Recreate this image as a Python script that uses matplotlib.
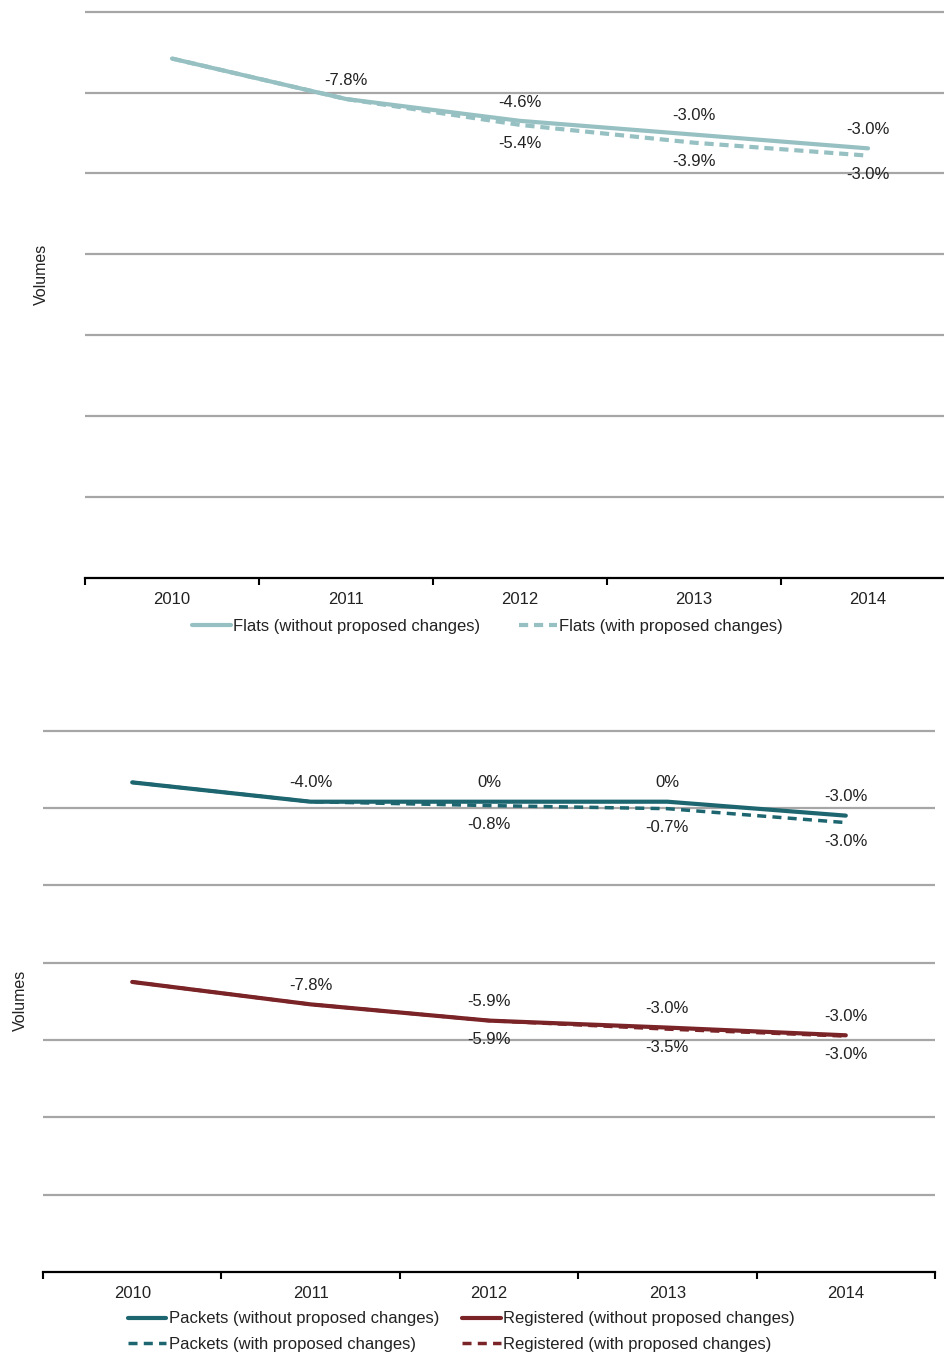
import matplotlib.pyplot as plt
from matplotlib.ticker import FixedLocator, NullFormatter

plt.rcParams['font.family'] = ['Liberation Sans', 'DejaVu Sans']

years = ['2010', '2011', '2012', '2013', '2014']

# Volumes in gridline units (axis has no scale printed)
flats_without = [6.42, 5.92, 5.65, 5.48, 5.31]
flats_with = [6.42, 5.92, 5.60, 5.38, 5.22]
packets_without = [6.33, 6.08, 6.08, 6.08, 5.90]
packets_with = [6.33, 6.08, 6.03, 5.99, 5.81]
registered_without = [3.75, 3.46, 3.25, 3.16, 3.06]
registered_with = [3.75, 3.46, 3.25, 3.14, 3.05]

# year-on-year change labels (first year has none)
flats_without_lbl = ['', '-7.8%', '-4.6%', '-3.0%', '-3.0%']
flats_with_lbl = ['', '', '-5.4%', '-3.9%', '-3.0%']
packets_without_lbl = ['', '-4.0%', '0%', '0%', '-3.0%']
packets_with_lbl = ['', '', '-0.8%', '-0.7%', '-3.0%']
registered_without_lbl = ['', '-7.8%', '-5.9%', '-3.0%', '-3.0%']
registered_with_lbl = ['', '', '-5.9%', '-3.5%', '-3.0%']

FLATS = '#96c0c2'
PACKETS = '#1d6670'
REGISTERED = '#7b2428'
GRID = '#a6a6a6'
TXT = '#222222'
FS = 12

W, H = 945, 1356
fig = plt.figure(figsize=(W / 100, H / 100), dpi=100)


def style_axes(ax):
    x = range(len(years))
    ax.set_xlim(-0.5, len(years) - 0.5)
    ax.set_ylim(0, 7.02)
    ax.set_xticks(list(x))
    ax.set_xticklabels(years, fontsize=FS, color=TXT)
    ax.xaxis.set_minor_locator(FixedLocator([i - 0.5 for i in range(len(years) + 1)]))
    ax.xaxis.set_minor_formatter(NullFormatter())
    ax.tick_params(axis='x', which='major', length=0, pad=10)
    ax.tick_params(axis='x', which='minor', length=5, width=1.5, color='black')
    ax.set_yticks(range(1, 8))
    ax.set_yticklabels([])
    ax.tick_params(axis='y', length=0)
    ax.grid(axis='y', color=GRID, linewidth=1.6)
    ax.set_axisbelow(True)
    for s in ['left', 'right', 'top']:
        ax.spines[s].set_visible(False)
    ax.spines['bottom'].set_linewidth(1.6)
    ax.spines['bottom'].set_color('black')


def label_points(ax, values, labels, dy):
    for i, (v, t) in enumerate(zip(values, labels)):
        if t:
            ax.annotate(t, (i, v), xytext=(0, dy), textcoords='offset points',
                        ha='center', va='center', fontsize=FS, color=TXT)


# Flats
ax1 = fig.add_axes([85 / W, 1 - 578 / H, 870 / W, 568 / H])
style_axes(ax1)
x = range(len(years))
ax1.plot(x, flats_without, color=FLATS, lw=3, solid_capstyle='round',
         label='Flats (without proposed changes)', zorder=3)
ax1.plot(x, flats_with, color=FLATS, lw=3, dashes=(2.2, 1.4),
         label='Flats (with proposed changes)', zorder=2)
label_points(ax1, flats_without, flats_without_lbl, 13.5)
label_points(ax1, flats_with, flats_with_lbl, -13.5)
ax1.set_ylabel('Volumes', fontsize=11.5, color=TXT)
ax1.yaxis.set_label_coords(-0.042, 0.535)
ax1.legend(loc='upper center', bbox_to_anchor=(0.463, -0.045), ncol=2, frameon=False,
           fontsize=FS, handlelength=2.3, handletextpad=0.15, columnspacing=2.3,
           labelcolor=TXT)

# Packets and registered
ax2 = fig.add_axes([43 / W, 1 - 1272 / H, 892 / W, 543 / H])
style_axes(ax2)
ax2.plot(x, packets_without, color=PACKETS, lw=3, solid_capstyle='round',
         label='Packets (without proposed changes)', zorder=3)
ax2.plot(x, packets_with, color=PACKETS, lw=2.5, dashes=(2.6, 1.8),
         label='Packets (with proposed changes)', zorder=2)
ax2.plot(x, registered_without, color=REGISTERED, lw=3, solid_capstyle='round',
         label='Registered (without proposed changes)', zorder=3)
ax2.plot(x, registered_with, color=REGISTERED, lw=2.5, dashes=(2.6, 1.8),
         label='Registered (with proposed changes)', zorder=2)
label_points(ax2, packets_without, packets_without_lbl, 13.5)
label_points(ax2, packets_with, packets_with_lbl, -13.5)
label_points(ax2, registered_without, registered_without_lbl, 13.5)
label_points(ax2, registered_with, registered_with_lbl, -13.5)
ax2.set_ylabel('Volumes', fontsize=11.5, color=TXT)
ax2.yaxis.set_label_coords(-0.017, 0.5)
ax2.legend(loc='upper center', bbox_to_anchor=(0.469, -0.045), ncol=2, frameon=False,
           fontsize=FS, handlelength=2.3, handletextpad=0.15, columnspacing=1.4,
           labelspacing=0.65, labelcolor=TXT)

fig.savefig('out.png', dpi=100)
